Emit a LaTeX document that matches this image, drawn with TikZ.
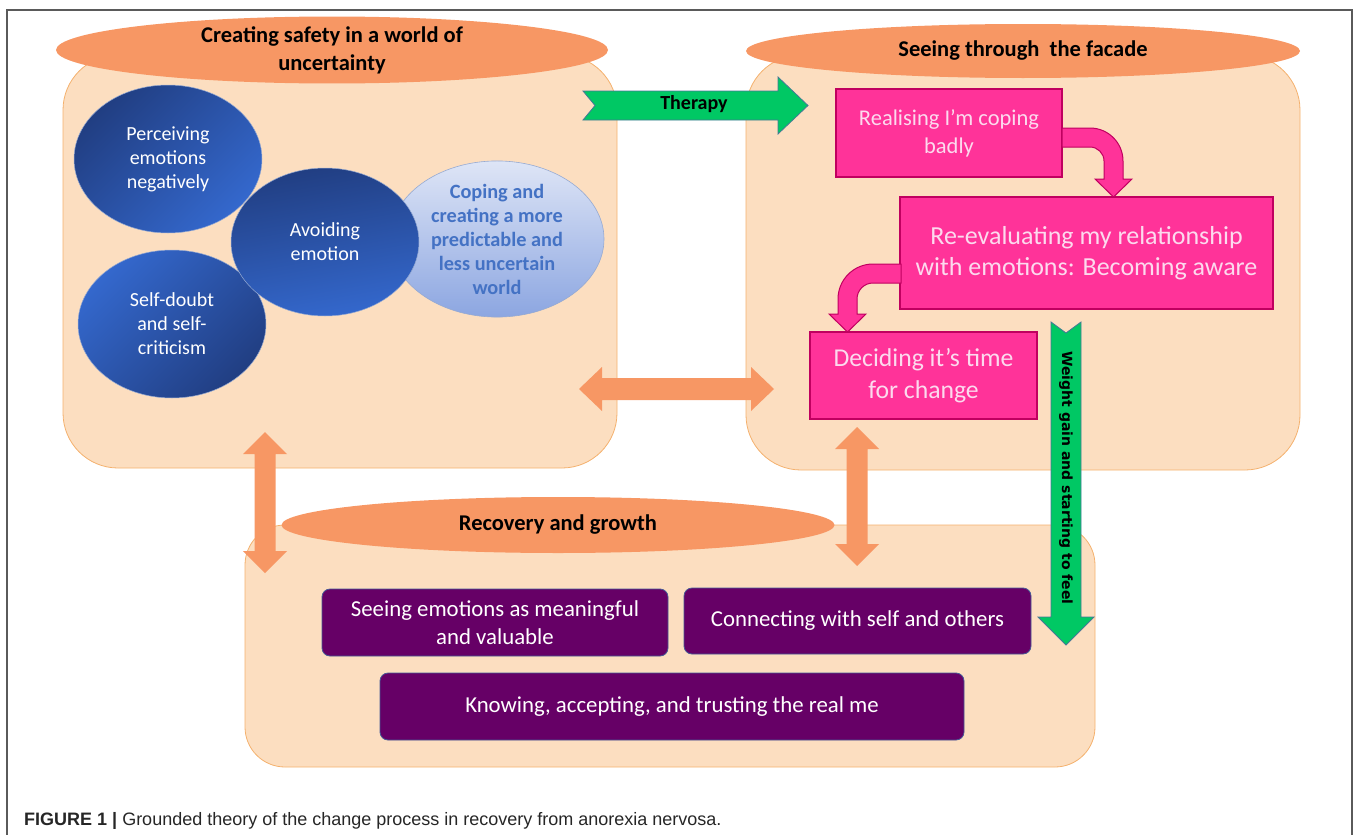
\documentclass[tikz,border=0pt]{standalone}
\usepackage{fontspec}
\setmainfont{Carlito}
\newfontfamily\weightfont{DejaVu Sans}
\newfontfamily\capfont{Liberation Sans}
\usetikzlibrary{shapes.geometric}

\definecolor{peach}{RGB}{252,222,192}
\definecolor{peachline}{RGB}{244,177,110}
\definecolor{orng}{RGB}{247,151,100}
\definecolor{grn}{RGB}{0,200,100}
\definecolor{greenline}{RGB}{70,120,150}
\definecolor{pinkfill}{RGB}{255,51,153}
\definecolor{pinkline}{RGB}{192,0,96}
\definecolor{pinktext}{RGB}{252,218,238}
\definecolor{purp}{RGB}{102,0,102}
\definecolor{purpline}{RGB}{70,90,150}
\definecolor{bluedark}{RGB}{33,62,130}
\definecolor{bluelight}{RGB}{52,104,205}
\definecolor{blueedge}{RGB}{150,170,210}
\definecolor{copetop}{RGB}{222,229,246}
\definecolor{copebottom}{RGB}{140,166,225}
\definecolor{copetext}{RGB}{68,114,196}
\definecolor{framegray}{RGB}{90,90,90}

\begin{document}
\begin{tikzpicture}[x=1pt,y=-1pt,
  stage/.style={draw=peachline,fill=peach,line width=0.8pt,inner sep=0pt},
  title/.style={ellipse,fill=orng,inner sep=0pt,align=center,
    font=\bfseries\fontsize{22.5}{28}\selectfont},
  bubble/.style={ellipse,draw=blueedge,line width=0.5pt,inner sep=0pt,
    minimum width=188pt,minimum height=148pt,align=center,text=white,
    font=\fontsize{20}{24}\selectfont},
  pinkbox/.style={draw=pinkline,fill=pinkfill,line width=1.2pt,inner sep=0pt,
    align=center,text=pinktext},
  purplebox/.style={draw=purpline,fill=purp,rounded corners=8pt,line width=0.8pt,
    inner sep=0pt,align=center,text=white,font=\fontsize{22.8}{28}\selectfont},
  pinkarrow/.style={draw=pinkline,fill=pinkfill,line width=1pt},
  greenarrow/.style={draw=greenline,fill=grn,line width=0.8pt},
  linkarrow/.style={fill=orng}]
  \useasboundingbox (0,0) rectangle (1358,835);

  % frame
  \draw[framegray,line width=1.2pt] (7,835) -- (7,10) -- (1352,10) -- (1352,835);

  % the three stages
  \node[stage,rounded corners=55pt,minimum width=554pt,minimum height=413pt]
    (safetybox) at (340,261.5) {};
  \node[stage,rounded corners=55pt,minimum width=554pt,minimum height=415pt]
    (facadebox) at (1023,262.5) {};
  \node[stage,rounded corners=40pt,minimum width=850pt,minimum height=242pt]
    (growthbox) at (670,646) {};

  \node[title,minimum width=552pt,minimum height=54pt] (safety) at (332,50)
    {Creating safety in a world of\\uncertainty};
  \node[title,minimum width=554pt,minimum height=54pt] (facade) at (1023,51)
    {Seeing through\ \ the facade};
  \node[title,minimum width=553pt,minimum height=56pt] (growth) at (558,525)
    {Recovery and growth};

  % safety
  \node[bubble,top color=bluedark,bottom color=bluelight,shading angle=45]
    (perceive) at (168,159) {Perceiving\\emotions\\negatively};
  \node[bubble,top color=bluelight,bottom color=bluedark,shading angle=45]
    (doubt) at (172,324) {Self-doubt\\and self-\\criticism};
  \node[ellipse,draw=blueedge,line width=0.6pt,top color=copetop,
    bottom color=copebottom,minimum width=214pt,minimum height=154pt,
    inner sep=0pt,align=center,text=copetext,
    font=\bfseries\fontsize{20.3}{24}\selectfont] (coping) at (497,239)
    {Coping and\\creating a more\\predictable and\\less uncertain\\world};
  \node[bubble,top color=bluedark,bottom color=bluelight,shading angle=10]
    (avoid) at (325,242) {Avoiding\\emotion};

  % facade
  \node[pinkbox,minimum width=226pt,minimum height=88pt,
    font=\fontsize{22.5}{28}\selectfont] (realise) at (949,133)
    {Realising I’m coping\\badly};
  \node[pinkbox,minimum width=373pt,minimum height=112pt,
    font=\fontsize{26}{31}\selectfont] (reeval) at (1086.5,253)
    {Re-evaluating my relationship\\with emotions: Becoming aware};
  \node[pinkbox,minimum width=227pt,minimum height=87pt,
    font=\fontsize{25.7}{32}\selectfont] (decide) at (923.5,375.5)
    {Deciding it’s time\\for change};

  \filldraw[pinkarrow] (1062,128) -- (1090,128)
    .. controls (1108.2,128) and (1123,142.8) .. (1123,161)
    -- (1123,179) -- (1132,179) -- (1113.5,197) -- (1095,179) -- (1104,179)
    -- (1104,161) .. controls (1104,153.3) and (1097.7,147) .. (1090,147)
    -- (1062,147) -- cycle;
  \filldraw[pinkarrow] (901,264) -- (873,264)
    .. controls (853.7,264) and (838,279.7) .. (838,299)
    -- (838,314) -- (829,314) -- (847.5,332) -- (866,314) -- (857,314)
    -- (857,299) .. controls (857,290.2) and (864.2,283) .. (873,283)
    -- (901,283) -- cycle;

  % growth
  \node[purplebox,minimum width=346pt,minimum height=67pt] (meaning) at (495,622.5)
    {Seeing emotions as meaningful\\and valuable};
  \node[purplebox,minimum width=347pt,minimum height=66pt] (connect) at (857.5,621)
    {Connecting with self and others};
  \node[purplebox,minimum width=584pt,minimum height=67pt] (realme) at (672,706.5)
    {Knowing, accepting, and trusting the real me};

  % two-way links
  \fill[linkarrow] (579,389) -- (602,367) -- (602,378) -- (751,378) -- (751,367)
    -- (774,389) -- (751,411) -- (751,400) -- (602,400) -- (602,411) -- cycle;
  \fill[linkarrow] (265,432) -- (287,454) -- (275.5,454) -- (275.5,551) -- (287,551)
    -- (265,573) -- (243,551) -- (254.5,551) -- (254.5,454) -- (243,454) -- cycle;
  \fill[linkarrow] (857,427) -- (879,449) -- (867.5,449) -- (867.5,544) -- (879,544)
    -- (857,566) -- (835,544) -- (846.5,544) -- (846.5,449) -- (835,449) -- cycle;

  % therapy
  \filldraw[greenarrow] (583,91) -- (778,91) -- (778,77) -- (808,105.5)
    -- (778,134) -- (778,120) -- (583,120) -- (595,105.5) -- cycle;
  \node[font=\bfseries\fontsize{20}{22}\selectfont] (therapy) at (694,104) {Therapy};

  % weight gain
  \filldraw[greenarrow] (1051,322) -- (1066,333) -- (1081,322) -- (1081,617)
    -- (1094,617) -- (1066,645) -- (1038,617) -- (1051,617) -- cycle;
  \node[rotate=-90,font=\weightfont\bfseries\fontsize{14}{16}\selectfont]
    (weight) at (1066,478) {Weight gain and starting to feel};

  % caption
  \node[anchor=base west,inner sep=0pt,font=\capfont\fontsize{18}{20}\selectfont,
    text=black!85] (caption) at (24,825)
    {\textbf{FIGURE 1 |} Grounded theory of the change process in recovery from anorexia nervosa.};
\end{tikzpicture}
\end{document}
